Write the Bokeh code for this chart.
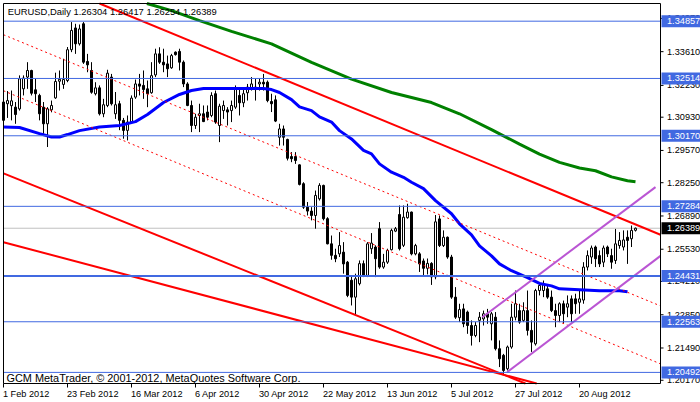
from bokeh.plotting import figure
from bokeh.models import Range1d, ColumnDataSource
from bokeh.core.properties import value
from bokeh.embed import file_html
from bokeh.resources import INLINE

# ---------------- data ----------------
opens = [1.3080,1.3148,1.3140,1.3134,1.3127,1.3209,1.3257,1.3284,1.3205,1.3182,
1.3134,1.3066,1.3123,1.3172,1.3240,1.3227,1.3243,1.3369,1.3458,1.3393,
1.3475,1.3321,1.3284,1.3189,1.3213,1.3107,1.3141,1.3257,1.3107,1.3148,
1.3080,1.3039,1.3073,1.3175,1.3229,1.3223,1.3209,1.3193,1.3266,1.3352,
1.3318,1.3311,1.3295,1.3359,1.3362,1.3318,1.3229,1.3141,1.3059,1.3100,
1.3107,1.3114,1.3100,1.3189,1.3059,1.3120,1.3123,1.3120,1.3134,1.3182,
1.3152,1.3193,1.3212,1.3216,1.3229,1.3236,1.3236,1.3157,1.3164,1.3011,
1.3045,1.3002,1.2932,1.2932,1.2898,1.2821,1.2725,1.2709,1.2691,1.2759,
1.2814,1.2678,1.2575,1.2528,1.2534,1.2541,1.2500,1.2426,1.2357,1.2412,
1.2494,1.2446,1.2555,1.2562,1.2637,1.2480,1.2500,1.2551,1.2627,1.2695,
1.2569,1.2682,1.2705,1.2534,1.2534,1.2505,1.2475,1.2495,1.2440,1.2677,
1.2568,1.2602,1.2521,1.2357,1.2273,1.2309,1.2296,1.2241,1.2200,1.2262,
1.2268,1.2289,1.2248,1.2275,1.2146,1.2119,1.2064,1.2153,1.2275,1.2302,
1.2262,1.2302,1.2221,1.2166,1.2384,1.2384,1.2391,1.2357,1.2302,1.2282,
1.2330,1.2316,1.2350,1.2350,1.2336,1.2345,1.2480,1.2521,1.2562,1.2527,
1.2500,1.2562,1.2527,1.2507,1.2568,1.2562,1.2602,1.2596,1.26304]

highs = [1.3196,1.3200,1.3202,1.3155,1.3264,1.3264,1.3318,1.3287,1.3250,1.3189,
1.3155,1.3134,1.3161,1.3275,1.3284,1.3332,1.3380,1.3482,1.3475,1.3472,
1.3482,1.3352,1.3318,1.3236,1.3223,1.3168,1.3287,1.3270,1.3196,1.3160,
1.3090,1.3100,1.3182,1.3247,1.3270,1.3284,1.3243,1.3318,1.3373,1.3379,
1.3373,1.3345,1.3352,1.3362,1.3373,1.3325,1.3236,1.3161,1.3107,1.3148,
1.3141,1.3141,1.3195,1.3202,1.3148,1.3161,1.3134,1.3161,1.3223,1.3216,
1.3216,1.3229,1.3257,1.3250,1.3250,1.3270,1.3243,1.3189,1.3182,1.3066,
1.3059,1.3005,1.2950,1.2950,1.2900,1.2827,1.2746,1.2725,1.2793,1.2823,
1.2817,1.2684,1.2609,1.2555,1.2623,1.2582,1.2505,1.2446,1.2453,1.2507,
1.2507,1.2582,1.2619,1.2569,1.2664,1.2534,1.2555,1.2637,1.2644,1.2732,
1.2732,1.2739,1.2707,1.2575,1.2541,1.2515,1.2515,1.2500,1.2693,1.2691,
1.2630,1.2605,1.2530,1.2398,1.2330,1.2330,1.2302,1.2262,1.2255,1.2296,
1.2302,1.2309,1.2296,1.2296,1.2180,1.2125,1.2159,1.2330,1.2384,1.2330,
1.2336,1.2384,1.2262,1.2391,1.2412,1.2425,1.2405,1.2384,1.2330,1.2336,
1.2343,1.2364,1.2364,1.2371,1.2384,1.2500,1.2548,1.2568,1.2568,1.2548,
1.2568,1.2568,1.2555,1.2636,1.2623,1.2630,1.2630,1.2650,1.26417]

lows = [1.3053,1.3090,1.3080,1.3066,1.3120,1.3182,1.3209,1.3182,1.3155,1.3080,
1.3025,1.2971,1.3113,1.3168,1.3202,1.3209,1.3236,1.3359,1.3352,1.3386,
1.3311,1.3277,1.3189,1.3182,1.3100,1.3093,1.3134,1.3141,1.3086,1.3040,
1.3005,1.2998,1.3066,1.3168,1.3182,1.3168,1.3134,1.3189,1.3257,1.3311,
1.3277,1.3257,1.3291,1.3345,1.3284,1.3216,1.3138,1.3032,1.3045,1.3032,
1.3073,1.3080,1.3093,1.3066,1.2991,1.3086,1.3059,1.3073,1.3127,1.3100,
1.3134,1.3161,1.3202,1.3161,1.3202,1.3202,1.3154,1.3114,1.3073,1.2977,
1.2977,1.2916,1.2909,1.2902,1.2814,1.2718,1.2691,1.2671,1.2637,1.2752,
1.2671,1.2573,1.2510,1.2500,1.2521,1.2453,1.2357,1.2323,1.2282,1.2405,
1.2439,1.2439,1.2534,1.2439,1.2473,1.2473,1.2493,1.2548,1.2623,1.2548,
1.2562,1.2678,1.2528,1.2528,1.2460,1.2445,1.2450,1.2407,1.2430,1.2562,
1.2562,1.2514,1.2350,1.2268,1.2255,1.2234,1.2207,1.2159,1.2193,1.2173,
1.2241,1.2248,1.2180,1.2139,1.2071,1.2043,1.2057,1.2146,1.2262,1.2248,
1.2255,1.2200,1.2133,1.2159,1.2364,1.2357,1.2350,1.2296,1.2234,1.2255,
1.2248,1.2275,1.2255,1.2289,1.2289,1.2330,1.2466,1.2493,1.2480,1.2480,
1.2480,1.2521,1.2473,1.2493,1.2555,1.2548,1.2493,1.2562,1.26254]

closes = [1.3155,1.3161,1.3160,1.3104,1.3250,1.3253,1.3284,1.3191,1.3189,1.3107,
1.3066,1.3127,1.3141,1.3239,1.3248,1.3247,1.3369,1.3448,1.3393,1.3454,
1.3318,1.3307,1.3195,1.3213,1.3107,1.3144,1.3273,1.3148,1.3144,1.3080,
1.3039,1.3073,1.3171,1.3229,1.3220,1.3206,1.3189,1.3263,1.3352,1.3318,
1.3307,1.3291,1.3345,1.3349,1.3318,1.3229,1.3141,1.3059,1.3093,1.3107,
1.3075,1.3093,1.3182,1.3073,1.3138,1.3141,1.3114,1.3141,1.3212,1.3152,
1.3189,1.3216,1.3229,1.3206,1.3236,1.3229,1.3161,1.3148,1.3077,1.3045,
1.3011,1.2925,1.2923,1.2916,1.2818,1.2725,1.2709,1.2691,1.2773,1.2814,
1.2678,1.2575,1.2528,1.2514,1.2568,1.2493,1.2364,1.2357,1.2432,1.2494,
1.2446,1.2575,1.2578,1.2514,1.2480,1.2500,1.2548,1.2630,1.2637,1.2555,
1.2684,1.2705,1.2534,1.2568,1.2493,1.2475,1.2495,1.2440,1.2665,1.2568,
1.2602,1.2521,1.2357,1.2275,1.2306,1.2248,1.2241,1.2200,1.2241,1.2275,
1.2289,1.2275,1.2289,1.2146,1.2105,1.2057,1.2153,1.2275,1.2330,1.2255,
1.2302,1.2221,1.2173,1.2384,1.2405,1.2412,1.2357,1.2302,1.2282,1.2330,
1.2289,1.2330,1.2289,1.2330,1.2350,1.2480,1.2527,1.2558,1.2514,1.2493,
1.2558,1.2534,1.2500,1.2575,1.2589,1.2591,1.2589,1.2630,1.26389]

# moving averages (bar index, price)
blue_ma_x = [0, 4, 9, 12, 14, 16, 19, 24, 29, 33, 36, 40, 44, 47, 50, 53, 58, 61, 65, 67,
             69, 72, 74, 77, 79, 82, 84, 87, 90, 92, 94, 97, 100, 102, 105, 108, 112, 114,
             117, 119, 122, 124, 127, 131, 134, 137, 139, 144, 149, 154, 156]
blue_ma_y = [1.3053, 1.3051, 1.3026, 1.3012, 1.3012, 1.3022, 1.3038, 1.3053, 1.3059, 1.3075,
             1.3104, 1.3153, 1.3186, 1.3202, 1.3210, 1.3210, 1.3210, 1.3210, 1.3210, 1.3206,
             1.3194, 1.3165, 1.3135, 1.3120, 1.3094, 1.3073, 1.3038, 1.3004, 1.2957, 1.2943,
             1.2902, 1.2868, 1.2847, 1.2827, 1.2801, 1.2752, 1.2698, 1.2657, 1.2612, 1.2567,
             1.2526, 1.2493, 1.2465, 1.2437, 1.2413, 1.2403, 1.2391, 1.2387, 1.2383, 1.2383, 1.2379]
green_ma_x = [25, 35, 42, 49, 57, 67, 77, 87, 97, 107, 114, 122, 129, 134, 139, 144, 148, 152, 156, 158]
green_ma_y = [1.3615, 1.3562, 1.3529, 1.3488, 1.3444, 1.3393, 1.3317, 1.3249, 1.3194, 1.3153,
              1.3107, 1.3042, 1.2983, 1.2942, 1.2908, 1.2885, 1.2874, 1.2849, 1.2833, 1.2829]

# trend lines: (x0, y0, x1, y1) in bar index / price
red_solid = dict(x0=[20, -1, -1], y0=[1.3585, 1.2870, 1.2586],
                 x1=[164.25, 134.25, 139.25], y1=[1.2612, 1.1979, 1.1978])
red_dotted = dict(x0=[-1, -1], y0=[1.3437, 1.3208], x1=[165, 165], y1=[1.2316, 1.2079])
channel = dict(x0=[119.7, 125.9], y0=[1.2275, 1.2050], x1=[163.0, 165.0], y1=[1.2807, 1.2535])

levels = [1.34857, 1.32514, 1.30170, 1.27284, 1.24431, 1.22563, 1.20492]
level_widths = [1, 1, 1, 1, 2, 1, 1]
last_price = 1.26389

price_ticks = [1.3497, 1.3361, 1.3223, 1.3093, 1.2957, 1.2825, 1.2689, 1.2553, 1.2421, 1.2285, 1.2149, 1.2017]
date_ticks = [0, 16, 32, 48, 64, 80, 96, 112, 128, 144]
date_labels = ["1 Feb 2012", "23 Feb 2012", "16 Mar 2012", "6 Apr 2012", "30 Apr 2012",
               "22 May 2012", "13 Jun 2012", "5 Jul 2012", "27 Jul 2012", "20 Aug 2012"]

header = "EURUSD,Daily  1.26304 1.26417 1.26254 1.26389"
footer = "GCM MetaTrader, \u00a9 2001-2012, MetaQuotes Software Corp."

# ---------------- layout ----------------
FONT = "Liberation Sans"
W, H = 700, 402
CH_L, CH_T, CH_W, CH_H = 3, 3, 657, 380           # chart box inside the canvas (px)
X_START, X_END = 0.0, 164.25                        # bars visible in the chart box
Y_BOT, Y_TOP = 1.20038, 1.3558                      # prices visible in the chart box
BPX = CH_W / (X_END - X_START)                      # px per bar
PPX = (Y_TOP - Y_BOT) / CH_H                        # price per px

xr = Range1d(X_START - CH_L / BPX, X_START + (W - CH_L) / BPX)
yr = Range1d(Y_BOT - (H - CH_T - CH_H) * PPX, Y_TOP + CH_T * PPX)

p = figure(width=W, height=H, x_range=xr, y_range=yr, x_axis_type=None, y_axis_type=None,
           output_backend="svg", toolbar_location=None,
           min_border_left=0, min_border_right=0, min_border_top=0, min_border_bottom=0,
           background_fill_color="white", border_fill_color="white")
p.outline_line_color = None
p.grid.visible = False


def clip_seg(x0, y0, x1, y1):
    dx, dy = x1 - x0, y1 - y0
    t0, t1 = 0.0, 1.0
    for pp, qq in ((-dx, x0 - X_START), (dx, X_END - x0), (-dy, y0 - Y_BOT), (dy, Y_TOP - y0)):
        if pp == 0:
            if qq < 0:
                return None
        else:
            r = qq / pp
            if pp < 0:
                if r > t1:
                    return None
                t0 = max(t0, r)
            else:
                if r < t0:
                    return None
                t1 = min(t1, r)
    return (x0 + t0 * dx, y0 + t0 * dy, x0 + t1 * dx, y0 + t1 * dy)


def clip_segments(d):
    out = dict(x0=[], y0=[], x1=[], y1=[])
    for a, b, c, e in zip(d["x0"], d["y0"], d["x1"], d["y1"]):
        s = clip_seg(a, b, c, e)
        if s:
            for k, v in zip(("x0", "y0", "x1", "y1"), s):
                out[k].append(v)
    return out


def clip_line(xs, ys):
    px, py = [], []
    for i in range(len(xs) - 1):
        s = clip_seg(xs[i], ys[i], xs[i + 1], ys[i + 1])
        if s:
            if not px:
                px.append(s[0]); py.append(s[1])
            px.append(s[2]); py.append(s[3])
    return px, py


# current price line (under the bars)
p.segment(x0=[X_START], y0=[last_price], x1=[X_END], y1=[last_price], line_color="#C0C0C0", line_width=1)

# candles
idx = list(range(len(opens)))
src = ColumnDataSource(dict(
    x=idx, h=highs, l=lows,
    top=[max(o, c) for o, c in zip(opens, closes)],
    bot=[min(o, c) for o, c in zip(opens, closes)],
    fill=["white" if c >= o else "black" for o, c in zip(opens, closes)],
))
p.segment(x0="x", y0="h", x1="x", y1="l", source=src, line_color="black", line_width=1)
p.vbar(x="x", width=0.5, top="top", bottom="bot", source=src,
       fill_color="fill", line_color="black", line_width=1)

# moving averages
gx, gy = clip_line(green_ma_x, green_ma_y)
p.line(gx, gy, line_color="#008000", line_width=3)
bx, by = clip_line(blue_ma_x, blue_ma_y)
p.line(bx, by, line_color="#0000FF", line_width=3)

# trend lines
p.segment(source=ColumnDataSource(clip_segments(red_dotted)), x0="x0", y0="y0", x1="x1", y1="y1",
          line_color="#FF0000", line_width=1, line_dash="2 3")
p.segment(source=ColumnDataSource(clip_segments(red_solid)), x0="x0", y0="y0", x1="x1", y1="y1",
          line_color="#FF0000", line_width=2)
p.segment(source=ColumnDataSource(clip_segments(channel)), x0="x0", y0="y0", x1="x1", y1="y1",
          line_color="#BA55D3", line_width=2)

# horizontal levels
p.segment(x0=[X_START] * len(levels), y0=levels, x1=[X_END] * len(levels), y1=levels,
          line_color="#4169E1", line_width=level_widths)

# chart border / axis lines
p.quad(left=[X_START], right=[X_END], bottom=[Y_BOT], top=[Y_TOP],
       fill_color=None, line_color="black", line_width=1)

# price scale
p.segment(x0=[X_END] * len(price_ticks), y0=price_ticks, x1=[X_END + 3 / BPX] * len(price_ticks),
          y1=price_ticks, line_color="black", line_width=1)
lab_x = X_END + 6.5 / BPX
p.text(x=[lab_x] * len(price_ticks), y=price_ticks, text=["%.5f" % t for t in price_ticks],
       text_font=value(FONT), text_font_size=value("9.2px"), text_color="black",
       text_baseline="middle", text_align="left")

box_levels = levels + [last_price]
box_colors = ["#4169E1"] * len(levels) + ["black"]
p.rect(x=[X_END + 20.5 / BPX] * len(box_levels), y=box_levels, width=39, height=12,
       width_units="screen", height_units="screen", fill_color=box_colors, line_color=None)
p.text(x=[lab_x] * len(box_levels), y=box_levels, text=["%.5f" % t for t in box_levels],
       text_font=value(FONT), text_font_size=value("9.2px"), text_color="white",
       text_baseline="middle", text_align="left")

# time scale
p.segment(x0=date_ticks, y0=[Y_BOT] * len(date_ticks), x1=date_ticks,
          y1=[Y_BOT - 4 * PPX] * len(date_ticks), line_color="black", line_width=1)
p.text(x=[t - 0.15 for t in date_ticks], y=[Y_BOT - 10.5 * PPX] * len(date_ticks), text=date_labels,
       text_font=value(FONT), text_font_size=value("9.2px"), text_color="black",
       text_baseline="middle", text_align="left")

# header and footer
p.text(x=[X_START + 4.3 / BPX], y=[Y_TOP - 8 * PPX], text=[header], text_font=value(FONT),
       text_font_size=value("9.4px"), text_color="black", text_baseline="middle", text_align="left")
p.text(x=[X_START + 3 / BPX], y=[Y_BOT + 5.5 * PPX], text=[footer], text_font=value(FONT),
       text_font_size=value("10.9px"), text_color="black", text_baseline="middle", text_align="left")

open("out.html", "w").write(file_html(p, INLINE))
